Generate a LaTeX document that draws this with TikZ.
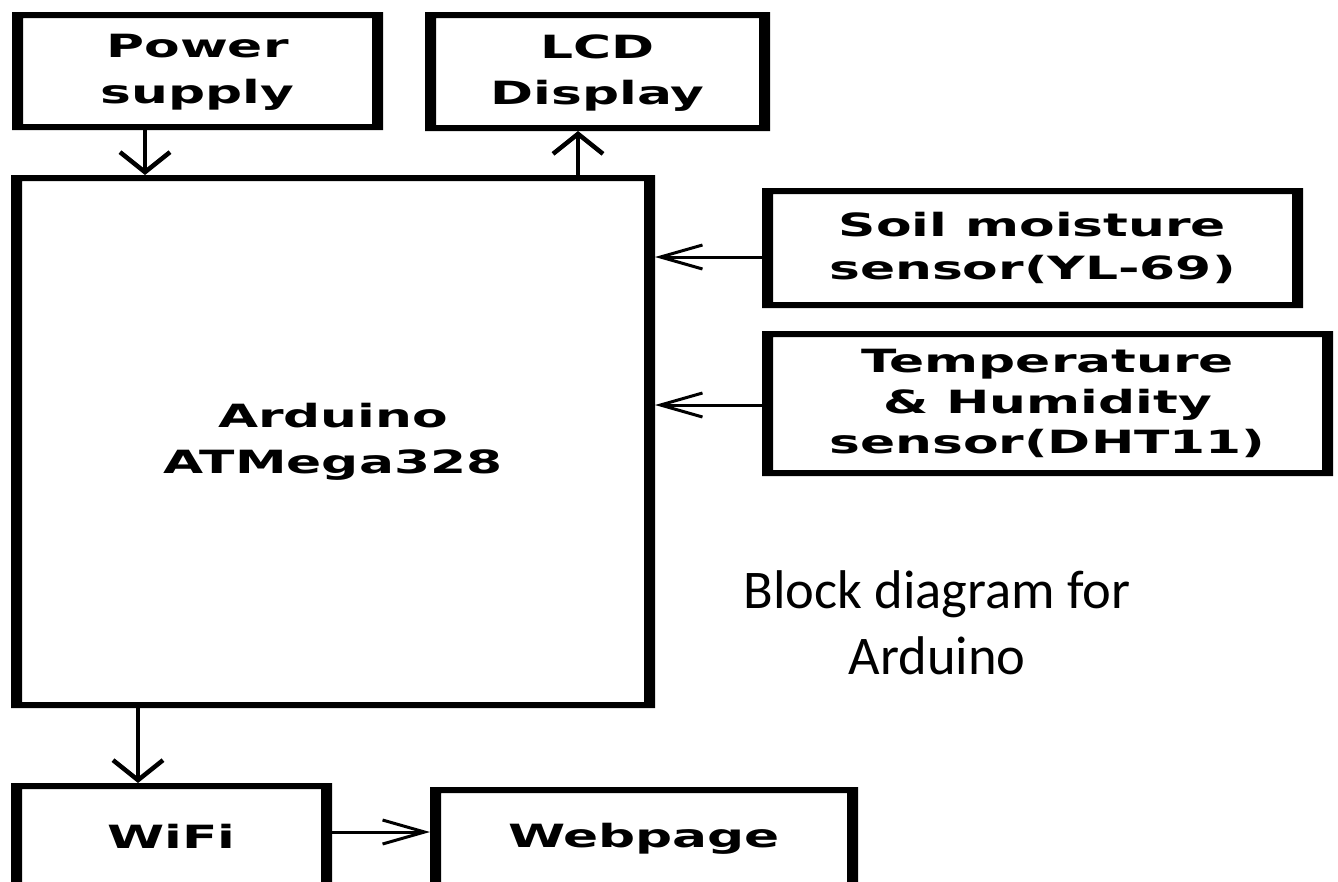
\documentclass[tikz,border=0pt]{standalone}
\usepackage{fontspec}
\usetikzlibrary{arrows.meta,calc}
\newfontfamily\boxfont[FakeStretch=1.62]{DejaVu Sans}
\newfontfamily\calfont{Carlito}
\tikzset{
  blk/.style={draw=none,inner sep=0pt,outer sep=0pt,align=center,
    font=\boxfont\bfseries\fontsize{32}{46}\selectfont},
  vconn/.style={line width=4.5pt,-{Straight Barb[length=20pt,width=50pt]}},
  hconn/.style={line width=3pt,-{Straight Barb[length=42pt,width=24pt]}},
  captext/.style={align=center,inner sep=0pt,font=\calfont\fontsize{54.5}{66}\selectfont}
}
\newcommand\thickframe[1]{\fill[black,even odd rule] (#1.south west) rectangle (#1.north east)
  ($(#1.south west)+(11,-6)$) rectangle ($(#1.north east)+(-11,6)$);}
\begin{document}
\begin{tikzpicture}[x=1pt,y=-1pt]
\useasboundingbox (0,0) rectangle (1338,881);
\clip (0,0) rectangle (1338,881);
\fill[white] (0,0) rectangle (1338,881);

\node[blk,minimum width=371pt,minimum height=118pt,text depth=4pt] (power) at (197.5,71) {Power\\supply};
\node[blk,minimum width=345pt,minimum height=119pt,text depth=4pt] (lcd) at (597.5,71.5) {LCD\\Display};
\node[blk,minimum width=644pt,minimum height=533pt] (ard) at (333,441.5) {Arduino\\ATMega328};
\node[blk,minimum width=541pt,minimum height=120pt,
  font=\boxfont\bfseries\fontsize{32}{43}\selectfont] (soil) at (1032.5,248) {Soil moisture\\sensor(YL-69)};
\node[blk,minimum width=571pt,minimum height=145pt,
  font=\boxfont\bfseries\fontsize{32}{40.5}\selectfont] (temp) at (1047.5,403.5) {Temperature\\\& Humidity\\sensor(DHT11)};
\node[blk,minimum width=321pt,minimum height=107pt] (wifi) at (171.5,836.5) {WiFi};
\node[blk,minimum width=428pt,minimum height=103pt] (web) at (644,838.5) {Webpage};

\foreach \n in {power,lcd,ard,soil,temp,wifi,web} {\thickframe{\n}}

\node[captext] (cap) at (937,623) {Block diagram for\\Arduino};

\coordinate (xp) at (145,0);
\coordinate (xl) at (578,0);
\coordinate (xw) at (138,0);
\coordinate (ys) at (0,257);
\coordinate (yt) at (0,405);
\coordinate (yw) at (0,832);

\draw[vconn] (xp |- power.south) -- (xp |- ard.north);
\draw[vconn] (xl |- ard.north) -- (xl |- lcd.south);
\draw[vconn] (xw |- ard.south) -- (xw |- wifi.north);
\draw[hconn] (soil.west |- ys) -- (ard.east |- ys);
\draw[hconn] (temp.west |- yt) -- (ard.east |- yt);
\draw[hconn] (wifi.east |- yw) -- (web.west |- yw);
\end{tikzpicture}
\end{document}
